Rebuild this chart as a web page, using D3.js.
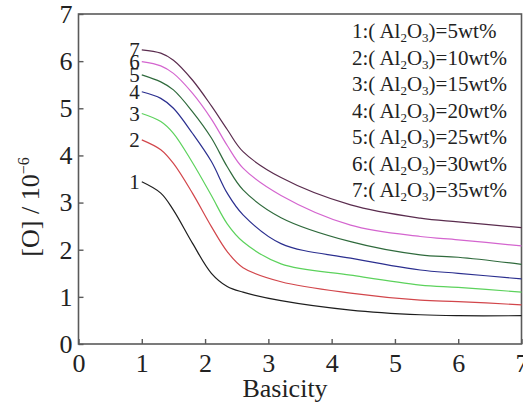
<!DOCTYPE html>
<html>
<head>
<meta charset="utf-8">
<script src="https://cdn.jsdelivr.net/npm/d3@7"></script>
</head>
<body style="margin:0; background:#fff">
<svg id="chart" width="523" height="403"></svg>
<script>
// basicity values the curves were read at
const basicity = [1, 1.3, 1.5, 1.8, 2.1, 2.35, 2.6, 3.2, 4.3, 5.4, 6, 7];

// [O] in 10^-6, one array per Al2O3 content
const oxygen1 = [3.44, 3.20, 2.84, 2.14, 1.50, 1.22, 1.10, 0.92, 0.72, 0.62, 0.60, 0.60];
const oxygen2 = [4.33, 4.12, 3.83, 3.20, 2.49, 1.96, 1.62, 1.32, 1.08, 0.93, 0.90, 0.83];
const oxygen3 = [4.89, 4.72, 4.47, 3.85, 3.15, 2.55, 2.17, 1.70, 1.46, 1.25, 1.20, 1.10];
const oxygen4 = [5.35, 5.21, 5.00, 4.47, 3.87, 3.20, 2.74, 2.13, 1.82, 1.57, 1.50, 1.38];
const oxygen5 = [5.71, 5.56, 5.39, 4.93, 4.37, 3.76, 3.27, 2.68, 2.17, 1.89, 1.84, 1.69];
const oxygen6 = [5.99, 5.90, 5.74, 5.32, 4.77, 4.21, 3.73, 3.15, 2.52, 2.28, 2.21, 2.08];
const oxygen7 = [6.24, 6.17, 6.02, 5.60, 5.05, 4.55, 4.08, 3.53, 2.95, 2.67, 2.59, 2.47];

const curveIds = ['1', '2', '3', '4', '5', '6', '7'];
const aluminaWt = ['5', '10', '15', '20', '25', '30', '35'];
const xTicks = [0, 1, 2, 3, 4, 5, 6, 7];
const yTicks = [0, 1, 2, 3, 4, 5, 6, 7];

const lineColors = ['#1e1e1e', '#d2464b', '#5cd25c', '#2b2f8f', '#2f6a3c', '#d465cf', '#5a2c4e'];

let svg = d3.select('#chart');

let x = d3.scaleLinear().domain([0, 7]).range([78.5, 521.5]);
let y = d3.scaleLinear().domain([0, 7]).range([344, 14]);

let series = [oxygen1, oxygen2, oxygen3, oxygen4, oxygen5, oxygen6, oxygen7].map(function(vals, i) {
  return {
    id: curveIds[i],
    color: lineColors[i],
    points: vals.map(function(v, j) { return [basicity[j], v]; })
  };
});

drawFrame();
drawAxes();
drawCurves();
drawLegend();
drawTitles();

// every text gets the Times-like face inline
svg.selectAll('text').style('font-family', '"Liberation Serif"').attr('fill', '#222');

function drawFrame() {
  svg.append('rect')
    .attr('x', x(0))
    .attr('y', y(7))
    .attr('width', x(7) - x(0))
    .attr('height', y(0) - y(7))
    .attr('fill', 'none')
    .attr('stroke', '#5a5a5a')
    .attr('stroke-width', 1.6);
}

function drawAxes() {
  // ticks point into the plot, labels sit outside
  let xAxis = svg.append('g')
    .attr('transform', 'translate(0,' + y(0) + ')')
    .call(d3.axisBottom(x).tickValues(xTicks).tickSizeInner(-5).tickSizeOuter(0).tickPadding(10).tickFormat(d3.format('d')));

  let yAxis = svg.append('g')
    .attr('transform', 'translate(' + x(0) + ',0)')
    .call(d3.axisLeft(y).tickValues(yTicks).tickSizeInner(-5).tickSizeOuter(0).tickPadding(6).tickFormat(d3.format('d')));

  [xAxis, yAxis].forEach(function(g) {
    g.attr('font-family', null);
    g.select('.domain').remove();
    g.selectAll('.tick line').attr('stroke', '#5a5a5a').attr('stroke-width', 1.4);
    g.selectAll('.tick text').attr('font-size', 26);
  });
}

function drawCurves() {
  let line = d3.line()
    .x(function(d) { return x(d[0]); })
    .y(function(d) { return y(d[1]); })
    .curve(d3.curveCatmullRom.alpha(0.5));

  let curve = svg.selectAll('.curve').data(series).enter()
    .append('g')
      .attr('class', 'curve');

  curve.append('path')
    .attr('d', function(d) { return line(d.points); })
    .attr('fill', 'none')
    .attr('stroke', function(d) { return d.color; })
    .attr('stroke-width', 1.2);

  // curve number just left of where each line starts
  curve.append('text')
    .attr('x', function(d) { return x(d.points[0][0]) - 2; })
    .attr('y', function(d) { return y(d.points[0][1]); })
    .attr('dy', '0.34em')
    .attr('text-anchor', 'end')
    .attr('font-size', 21)
    .text(function(d) { return d.id; });
}

function drawLegend() {
  let legend = svg.append('g')
    .attr('transform', 'translate(352,38)');

  let row = legend.selectAll('text').data(aluminaWt).enter()
    .append('text')
      .attr('y', function(d, i) { return i * 26.5; })
      .attr('font-size', 21);

  row.append('tspan').text(function(d, i) { return curveIds[i] + ':( Al'; });
  row.append('tspan').attr('font-size', 13).attr('dy', 4).text('2');
  row.append('tspan').attr('dy', -4).text('O');
  row.append('tspan').attr('font-size', 13).attr('dy', 4).text('3');
  row.append('tspan').attr('dy', -4).text(function(d) { return ')=' + d + 'wt%'; });
}

function drawTitles() {
  svg.append('text')
    .attr('x', 285)
    .attr('y', 397)
    .attr('text-anchor', 'middle')
    .attr('font-size', 26)
    .text('Basicity');

  let yTitle = svg.append('text')
    .attr('transform', 'translate(39,207) rotate(-90)')
    .attr('text-anchor', 'middle')
    .attr('font-size', 26);

  yTitle.append('tspan').text('[O] / 10');
  yTitle.append('tspan').attr('font-size', 16).attr('dy', -10).text('\u22126');
}
</script>
</body>
</html>
